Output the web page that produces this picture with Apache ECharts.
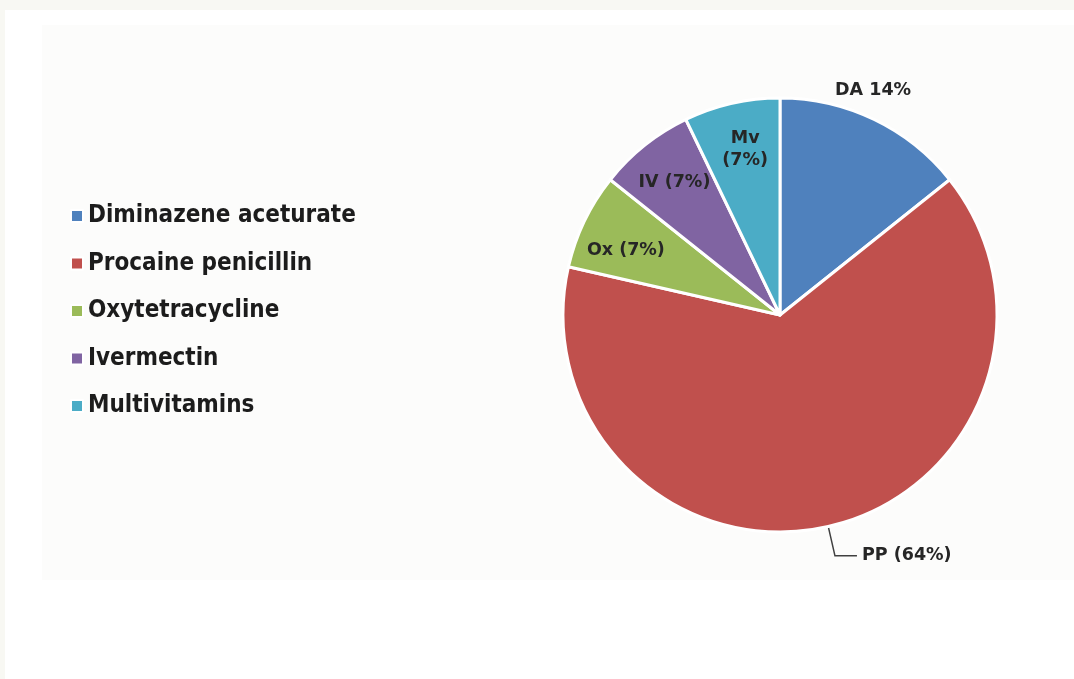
<!DOCTYPE html>
<html>
<head>
<meta charset="utf-8">
<title>Drug use</title>
<script src="https://cdn.jsdelivr.net/npm/echarts@6/dist/echarts.min.js"></script>
<style>
  html, body { margin: 0; padding: 0; background: #f8f8f3; }
  #chart { position: absolute; left: 5px; top: 10px; width: 1069px; height: 669px; background: #ffffff; }
</style>
</head>
<body>
<div id="chart"></div>
<script>
// Treatments given (number of cases)
const drugNames = ['Diminazene aceturate', 'Procaine penicillin', 'Oxytetracycline', 'Ivermectin', 'Multivitamins'];
const drugCodes = ['DA', 'PP', 'Ox', 'IV', 'Mv'];
const caseCounts = [2, 9, 1, 1, 1];

const colors = ['#4f81bd', '#c0504d', '#9bbb59', '#8064a2', '#4bacc6'];

const total = caseCounts.reduce((a, b) => a + b, 0);
const pct = v => Math.round(v / total * 100);

// label text layout per slice
const labelFormats = [
  (c, p) => c + ' ' + p + '%',
  (c, p) => c + ' (' + p + '%)',
  (c, p) => c + ' (' + p + '%)',
  (c, p) => c + ' (' + p + '%)',
  (c, p) => c + '\n(' + p + '%)'
];
// inside-placed labels: [radius fraction, angle nudge in degrees]; null = outside with leader
const labelPolar = [[1.12, -3.2], null, [0.77, -3], [0.78, 0], [0.78, 1]];

const chart = echarts.init(document.getElementById('chart'));

const CX = 775, CY = 305, R = 217;

// mid angle of each slice, clockwise from 12 o'clock
const midAngles = [];
let acc = 0;
caseCounts.forEach(v => {
  const a = v / total * 360;
  midAngles.push(acc + a / 2);
  acc += a;
});

const data = caseCounts.map((v, i) => {
  const inside = labelPolar[i] !== null;
  return {
    name: drugNames[i],
    value: v,
    itemStyle: { color: colors[i] },
    label: {
      position: inside ? 'inside' : 'outside',
      formatter: () => labelFormats[i](drugCodes[i], pct(v))
    },
    labelLine: { show: !inside }
  };
});

chart.setOption({
  animation: false,
  graphic: [{
    type: 'rect',
    shape: { x: 37, y: 15, width: 1032, height: 555 },
    style: { fill: '#fcfcfb' },
    silent: true,
    z: -10
  }],
  legend: {
    orient: 'vertical',
    left: 60,
    top: 187,
    itemWidth: 12,
    itemHeight: 12,
    itemGap: 19.5,
    icon: 'rect',
    data: drugNames,
    textStyle: {
      fontFamily: '"DejaVu Sans Condensed", "DejaVu Sans", sans-serif',
      fontWeight: 'bold',
      fontSize: 24,
      lineHeight: 28,
      color: '#1c1c1c'
    }
  },
  series: [{
    type: 'pie',
    center: [CX, CY],
    radius: [0, R],
    startAngle: 90,
    clockwise: true,
    avoidLabelOverlap: false,
    data: data,
    itemStyle: { borderColor: '#ffffff', borderWidth: 3 },
    label: {
      fontFamily: '"DejaVu Sans", sans-serif',
      fontWeight: 'bold',
      fontSize: 17.5,
      lineHeight: 22,
      color: '#262626',
      align: 'center'
    },
    labelLine: {
      length: 30,
      length2: 22,
      smooth: false,
      lineStyle: { color: '#404040', width: 1.5 }
    },
    labelLayout: params => {
      const i = params.dataIndex;
      const p = labelPolar[i];
      if (!p) return {};
      const ang = (midAngles[i] + p[1]) * Math.PI / 180;
      const tx = CX + R * p[0] * Math.sin(ang);
      const ty = CY - R * p[0] * Math.cos(ang);
      const r = params.labelRect;
      return { dx: tx - (r.x + r.width / 2), dy: ty - (r.y + r.height / 2) };
    }
  }]
});
</script>
</body>
</html>
